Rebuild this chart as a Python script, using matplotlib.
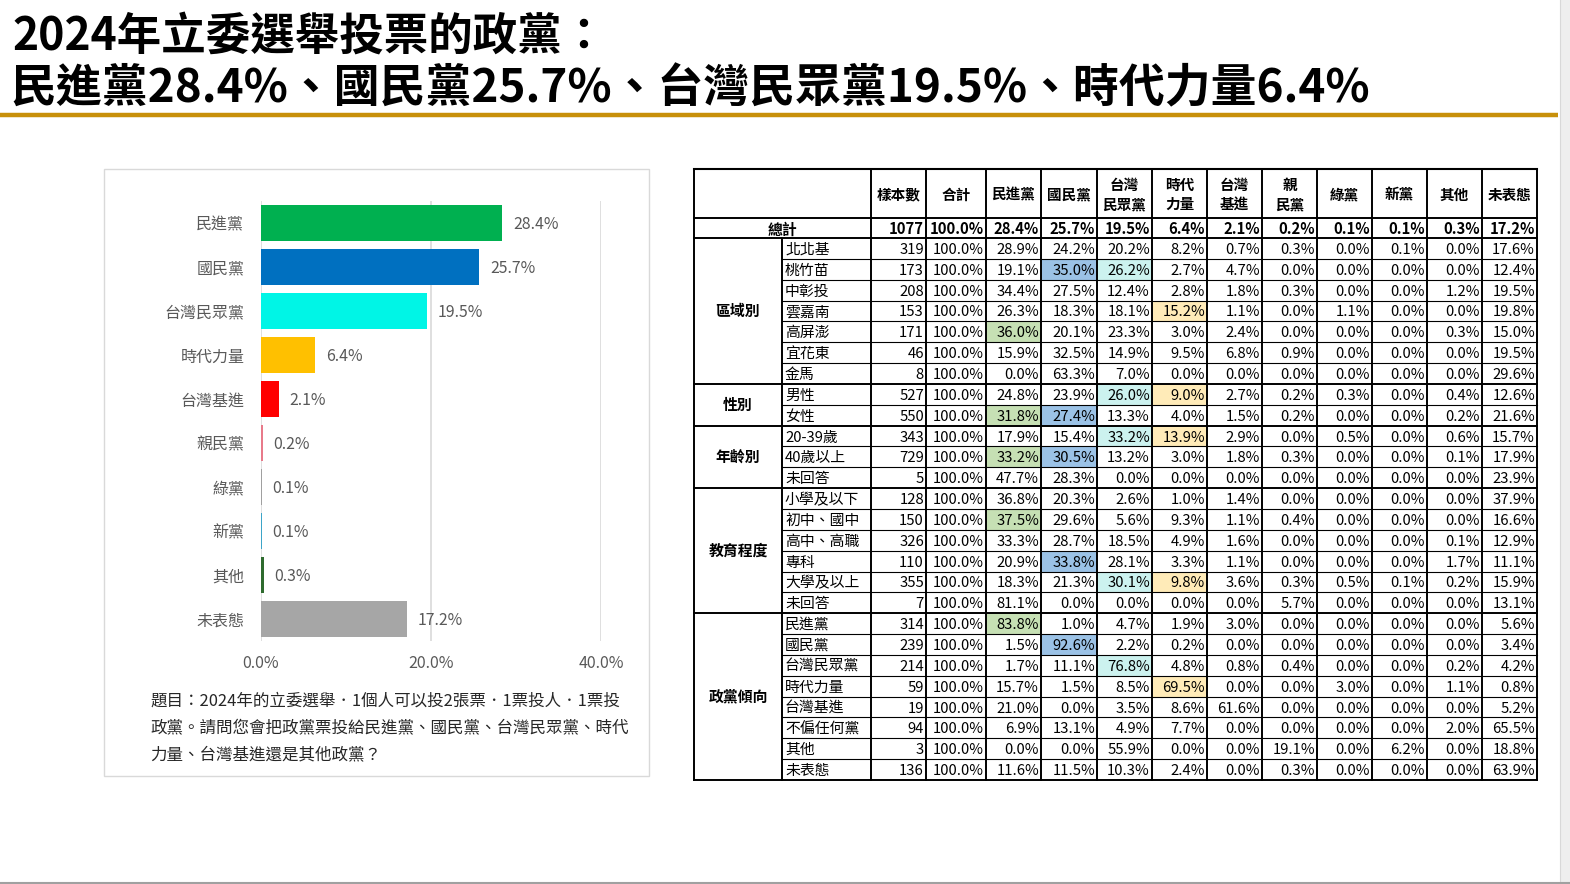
import matplotlib
matplotlib.use('Agg')
import matplotlib.pyplot as plt
from matplotlib.patches import Rectangle

plt.rcParams['font.family'] = ['Noto Sans CJK TC', 'DejaVu Sans']

W, H = 1570, 884

# ---- title ----
title_lines = ['2024年立委選舉投票的政黨：',
               '民進黨28.4%、國民黨25.7%、台灣民眾黨19.5%、時代力量6.4%']

# ---- bar chart data ----
parties = ['民進黨', '國民黨', '台灣民眾黨', '時代力量', '台灣基進',
           '親民黨', '綠黨', '新黨', '其他', '未表態']
shares = [28.4, 25.7, 19.5, 6.4, 2.1, 0.2, 0.1, 0.1, 0.3, 17.2]
bar_colors = ['#00B050', '#0070C0', '#00F5E6', '#FFC000', '#FF0000',
              '#E87A8A', '#A0A0A0', '#3DA5C8', '#2E6B2E', '#A6A6A6']
xticks = [0, 20, 40]

question = ['題目：2024年的立委選舉．1個人可以投2張票．1票投人．1票投',
            '政黨。請問您會把政黨票投給民進黨、國民黨、台灣民眾黨、時代',
            '力量、台灣基進還是其他政黨？']

# ---- table data ----
col_headers = ['樣本數', '合計', '民進黨', '國民黨', '台灣\n民眾黨', '時代\n力量',
               '台灣\n基進', '親\n民黨', '綠黨', '新黨', '其他', '未表態']
total_n = 1077
total_pct = [100.0, 28.4, 25.7, 19.5, 6.4, 2.1, 0.2, 0.1, 0.1, 0.3, 17.2]

groups = ['區域別', '性別', '年齡別', '教育程度', '政黨傾向']
group_sizes = [7, 2, 3, 6, 8]

row_labels = ['北北基', '桃竹苗', '中彰投', '雲嘉南', '高屏澎', '宜花東', '金馬',
              '男性', '女性',
              '20-39歲', '40歲以上', '未回答',
              '小學及以下', '初中、國中', '高中、高職', '專科', '大學及以上', '未回答',
              '民進黨', '國民黨', '台灣民眾黨', '時代力量', '台灣基進', '不偏任何黨', '其他', '未表態']
row_n = [319, 173, 208, 153, 171, 46, 8,
         527, 550,
         343, 729, 5,
         128, 150, 326, 110, 355, 7,
         314, 239, 214, 59, 19, 94, 3, 136]
row_pct = [
    [100.0, 28.9, 24.2, 20.2, 8.2, 0.7, 0.3, 0.0, 0.1, 0.0, 17.6],
    [100.0, 19.1, 35.0, 26.2, 2.7, 4.7, 0.0, 0.0, 0.0, 0.0, 12.4],
    [100.0, 34.4, 27.5, 12.4, 2.8, 1.8, 0.3, 0.0, 0.0, 1.2, 19.5],
    [100.0, 26.3, 18.3, 18.1, 15.2, 1.1, 0.0, 1.1, 0.0, 0.0, 19.8],
    [100.0, 36.0, 20.1, 23.3, 3.0, 2.4, 0.0, 0.0, 0.0, 0.3, 15.0],
    [100.0, 15.9, 32.5, 14.9, 9.5, 6.8, 0.9, 0.0, 0.0, 0.0, 19.5],
    [100.0, 0.0, 63.3, 7.0, 0.0, 0.0, 0.0, 0.0, 0.0, 0.0, 29.6],
    [100.0, 24.8, 23.9, 26.0, 9.0, 2.7, 0.2, 0.3, 0.0, 0.4, 12.6],
    [100.0, 31.8, 27.4, 13.3, 4.0, 1.5, 0.2, 0.0, 0.0, 0.2, 21.6],
    [100.0, 17.9, 15.4, 33.2, 13.9, 2.9, 0.0, 0.5, 0.0, 0.6, 15.7],
    [100.0, 33.2, 30.5, 13.2, 3.0, 1.8, 0.3, 0.0, 0.0, 0.1, 17.9],
    [100.0, 47.7, 28.3, 0.0, 0.0, 0.0, 0.0, 0.0, 0.0, 0.0, 23.9],
    [100.0, 36.8, 20.3, 2.6, 1.0, 1.4, 0.0, 0.0, 0.0, 0.0, 37.9],
    [100.0, 37.5, 29.6, 5.6, 9.3, 1.1, 0.4, 0.0, 0.0, 0.0, 16.6],
    [100.0, 33.3, 28.7, 18.5, 4.9, 1.6, 0.0, 0.0, 0.0, 0.1, 12.9],
    [100.0, 20.9, 33.8, 28.1, 3.3, 1.1, 0.0, 0.0, 0.0, 1.7, 11.1],
    [100.0, 18.3, 21.3, 30.1, 9.8, 3.6, 0.3, 0.5, 0.1, 0.2, 15.9],
    [100.0, 81.1, 0.0, 0.0, 0.0, 0.0, 5.7, 0.0, 0.0, 0.0, 13.1],
    [100.0, 83.8, 1.0, 4.7, 1.9, 3.0, 0.0, 0.0, 0.0, 0.0, 5.6],
    [100.0, 1.5, 92.6, 2.2, 0.2, 0.0, 0.0, 0.0, 0.0, 0.0, 3.4],
    [100.0, 1.7, 11.1, 76.8, 4.8, 0.8, 0.4, 0.0, 0.0, 0.2, 4.2],
    [100.0, 15.7, 1.5, 8.5, 69.5, 0.0, 0.0, 3.0, 0.0, 1.1, 0.8],
    [100.0, 21.0, 0.0, 3.5, 8.6, 61.6, 0.0, 0.0, 0.0, 0.0, 5.2],
    [100.0, 6.9, 13.1, 4.9, 7.7, 0.0, 0.0, 0.0, 0.0, 2.0, 65.5],
    [100.0, 0.0, 0.0, 55.9, 0.0, 0.0, 19.1, 0.0, 6.2, 0.0, 18.8],
    [100.0, 11.6, 11.5, 10.3, 2.4, 0.0, 0.3, 0.0, 0.0, 0.0, 63.9],
]
# (row index, party index: 0 民進黨 1 國民黨 2 民眾黨 3 時代力量)
highlights = [(1, 1), (1, 2), (3, 3), (4, 0), (7, 2), (7, 3), (8, 0), (8, 1),
              (9, 2), (9, 3), (10, 0), (10, 1), (13, 0), (15, 1), (16, 2), (16, 3),
              (18, 0), (19, 1), (20, 2), (21, 3)]
hl_colors = ['#C6E0B4', '#9BC2E6', '#CCF2EF', '#FFEBB8']

# ---- figure ----
fig = plt.figure(figsize=(W / 100, H / 100), dpi=100)
bg = fig.add_axes([0, 0, 1, 1])
bg.set_xlim(0, W)
bg.set_ylim(H, 0)
bg.axis('off')

# title + gold rule
bg.text(12, 37, title_lines[0], fontsize=32, fontweight='heavy', va='center', ha='left')
bg.text(10, 89, title_lines[1], fontsize=33, fontweight='heavy', va='center', ha='left')
bg.plot([0, 1558], [115, 115], color='#C8900A', lw=3.2, solid_capstyle='butt')

# slide edges
bg.add_patch(Rectangle((1560, 0), 10, H, color='#EEEEEE', lw=0))
bg.plot([1560, 1560], [0, H], color='#D8D8D8', lw=0.8)
bg.plot([0, W], [882.5, 882.5], color='#A0A0A0', lw=1.5)

# left panel box
bg.add_patch(Rectangle((104, 169), 545, 607, fill=False, edgecolor='#D9D9D9', lw=1))
for i, line in enumerate(question):
    bg.text(150, 699 + i * 27, line, fontsize=11.9, color='#262626',
            va='center_baseline', ha='left')

# ---- bar chart ----
ax = fig.add_axes([261 / W, (H - 641) / H, 340 / W, 440 / H])
ax.patch.set_alpha(0)
y = list(range(len(parties)))
ax.barh(y, shares, height=0.8, color=bar_colors, zorder=3)
for yi, v in zip(y, shares):
    ax.annotate(f'{v:.1f}%', (v, yi), xytext=(7.5, 0), textcoords='offset points',
                va='center_baseline', ha='left', fontsize=11.4, color='#595959')
ax.set_xlim(0, 40)
ax.set_ylim(len(parties) - 0.5, -0.5)
ax.set_xticks(xticks)
ax.set_xticklabels([f'{t:.1f}%' for t in xticks])
ax.set_yticks(y)
ax.set_yticklabels(parties, va='center_baseline')
ax.tick_params(axis='both', length=0, labelsize=11.5, labelcolor='#595959')
ax.tick_params(axis='y', pad=12)
ax.tick_params(axis='x', pad=10)
ax.grid(axis='x', color='#D9D9D9', lw=1.2)
ax.set_axisbelow(True)
for s in ax.spines.values():
    s.set_visible(False)

# ---- table ----
col_edges = [694, 782, 871, 926, 986, 1041, 1097, 1152, 1207, 1262, 1317, 1372, 1427, 1482, 1537]
t_top, h_bot, tot_bot, t_bot = 169, 218, 238, 780
n_rows = len(row_labels)
row_h = (t_bot - tot_bot) / n_rows
fs = 10.7

def row_top(i):
    return tot_bot + i * row_h

# highlighted cells
for r, p in highlights:
    c = 4 + p
    bg.add_patch(Rectangle((col_edges[c], row_top(r)), col_edges[c + 1] - col_edges[c], row_h,
                           color=hl_colors[p], lw=0, zorder=1))

# header
for j, h in enumerate(col_headers):
    cx = (col_edges[j + 2] + col_edges[j + 3]) / 2
    bg.text(cx, (t_top + h_bot) / 2 + 1, h, fontsize=fs - 0.2, fontweight='bold',
            ha='center', va='center', linespacing=1.25, zorder=3)

# total row
ty = (h_bot + tot_bot) / 2
bg.text((col_edges[0] + col_edges[2]) / 2, ty, '總計', fontsize=fs, fontweight='bold',
        ha='center', va='center_baseline', zorder=3)
bg.text(col_edges[3] - 2, ty, f'{total_n}', fontsize=fs, fontweight='bold',
        ha='right', va='center_baseline', zorder=3)
for j, v in enumerate(total_pct):
    bg.text(col_edges[4 + j] - 2, ty, f'{v:.1f}%', fontsize=fs, fontweight='bold',
            ha='right', va='center_baseline', zorder=3)

# body rows
for i in range(n_rows):
    cy = row_top(i) + row_h / 2
    bg.text(col_edges[1] + 3, cy, row_labels[i], fontsize=fs, ha='left',
            va='center_baseline', zorder=3)
    bg.text(col_edges[3] - 2, cy, f'{row_n[i]}', fontsize=fs, ha='right',
            va='center_baseline', zorder=3)
    for j, v in enumerate(row_pct[i]):
        bg.text(col_edges[4 + j] - 2, cy, f'{v:.1f}%', fontsize=fs, ha='right',
                va='center_baseline', zorder=3)

# group labels
start = 0
group_bounds = []
for g, n in zip(groups, group_sizes):
    y0, y1 = row_top(start), row_top(start + n)
    bg.text((col_edges[0] + col_edges[1]) / 2, (y0 + y1) / 2, g, fontsize=fs, fontweight='bold',
            ha='center', va='center', zorder=3)
    start += n
    group_bounds.append(start)

# grid lines
lc = 'black'
bg.plot([col_edges[0], col_edges[-1]], [t_top, t_top], color=lc, lw=1.5, zorder=4)
bg.plot([col_edges[0], col_edges[-1]], [h_bot, h_bot], color=lc, lw=1.4, zorder=4)
bg.plot([col_edges[0], col_edges[-1]], [tot_bot, tot_bot], color=lc, lw=1.4, zorder=4)
for i in range(1, n_rows + 1):
    yy = row_top(i)
    if i in group_bounds:
        bg.plot([col_edges[0], col_edges[-1]], [yy, yy], color=lc, lw=1.4, zorder=4)
    else:
        bg.plot([col_edges[1], col_edges[-1]], [yy, yy], color=lc, lw=0.8, zorder=4)
bg.plot([col_edges[0], col_edges[0]], [t_top, t_bot], color=lc, lw=1.4, zorder=4)
bg.plot([col_edges[1], col_edges[1]], [tot_bot, t_bot], color=lc, lw=1.4, zorder=4)
for x in col_edges[2:]:
    bg.plot([x, x], [t_top, t_bot], color=lc, lw=1.4, zorder=4)

fig.savefig('out.png', dpi=100)
